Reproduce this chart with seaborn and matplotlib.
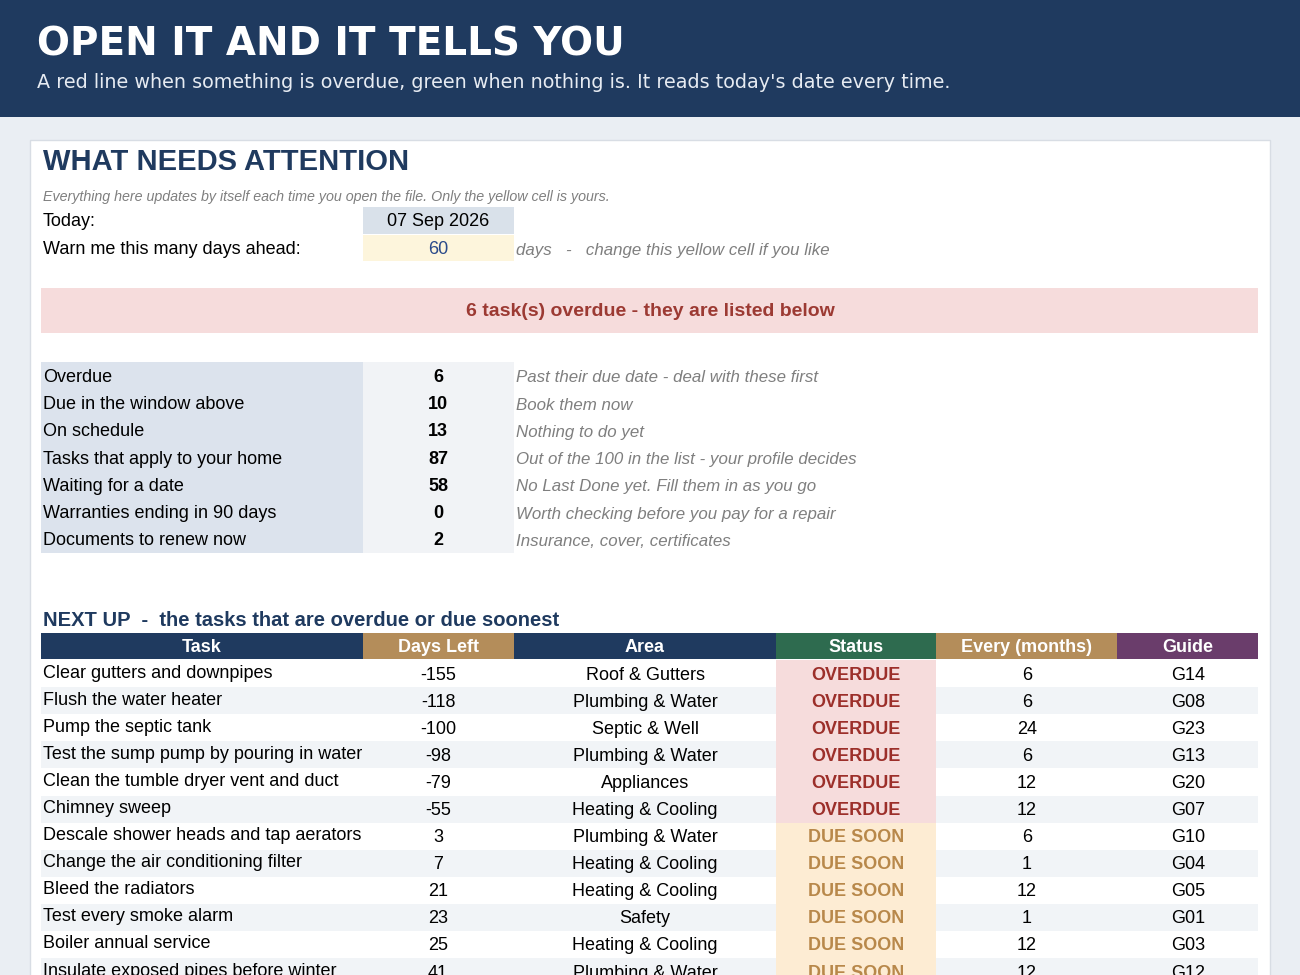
import matplotlib
matplotlib.use("Agg")
import matplotlib.pyplot as plt
import seaborn as sns
from matplotlib.patches import Rectangle
from matplotlib.transforms import Bbox, TransformedBbox

sns.set_theme(style="white")
plt.rcParams['font.family'] = ['Liberation Sans', 'DejaVu Sans']

title = "OPEN IT AND IT TELLS YOU"
subtitle = "A red line when something is overdue, green when nothing is. It reads today's date every time."
today = "07 Sep 2026"
warn_days = "60"
banner = "6 task(s) overdue - they are listed below"

sum_labels = ["Overdue", "Due in the window above", "On schedule", "Tasks that apply to your home",
              "Waiting for a date", "Warranties ending in 90 days", "Documents to renew now"]
sum_values = [6, 10, 13, 87, 58, 0, 2]
sum_notes = ["Past their due date - deal with these first", "Book them now", "Nothing to do yet",
             "Out of the 100 in the list - your profile decides", "No Last Done yet. Fill them in as you go",
             "Worth checking before you pay for a repair", "Insurance, cover, certificates"]

columns = ["Task", "Days Left", "Area", "Status", "Every (months)", "Guide"]
tasks = ["Clear gutters and downpipes", "Flush the water heater", "Pump the septic tank",
         "Test the sump pump by pouring in water", "Clean the tumble dryer vent and duct", "Chimney sweep",
         "Descale shower heads and tap aerators", "Change the air conditioning filter", "Bleed the radiators",
         "Test every smoke alarm", "Boiler annual service", "Insulate exposed pipes before winter"]
days_left = [-155, -118, -100, -98, -79, -55, 3, 7, 21, 23, 25, 41]
areas = ["Roof & Gutters", "Plumbing & Water", "Septic & Well", "Plumbing & Water", "Appliances",
         "Heating & Cooling", "Plumbing & Water", "Heating & Cooling", "Heating & Cooling", "Safety",
         "Heating & Cooling", "Plumbing & Water"]
statuses = ["OVERDUE"] * 6 + ["DUE SOON"] * 6
every = [6, 6, 24, 6, 12, 12, 6, 1, 12, 1, 12, 12]
guides = ["G14", "G08", "G23", "G13", "G20", "G07", "G10", "G04", "G05", "G01", "G03", "G12"]

NAVY = "#1f3a5f"
FS = 13
fig = plt.figure(figsize=(13, 9.75), dpi=100)
ax = fig.add_axes([0, 0, 1, 1])
ax.set_xlim(0, 1300); ax.set_ylim(975, 0); ax.axis("off")

def rect(x0, y0, x1, y1, c, **kw):
    r = Rectangle((x0, y0), x1 - x0, y1 - y0, facecolor=c, edgecolor=kw.pop("ec", "none"), **kw)
    ax.add_patch(r); return r

rect(0, 117, 1300, 975, "#eaeef3")
rect(0, 0, 1300, 117, NAVY)
ax.text(37, 44, title, family="DejaVu Sans", fontweight="bold", fontsize=28, color="white", va="center")
ax.text(37, 83, subtitle, family="DejaVu Sans", fontsize=13.8, color="#e6ebf2", va="center")
rect(30, 140, 1270, 990, "white", ec="#d8dde4", lw=1)

ax.text(43, 162, "WHAT NEEDS ATTENTION", fontweight="bold", fontsize=21, color=NAVY, va="center")
ax.text(43, 197, "Everything here updates by itself each time you open the file. Only the yellow cell is yours.",
        style="italic", fontsize=10.3, color="#7f7f7f", va="center")
rect(363, 207, 514, 234, "#d9e1ea")
ax.text(43, 222, "Today:", fontsize=FS, color="black", va="center")
ax.text(438, 222, today, fontsize=FS, color="black", va="center", ha="center")
rect(363, 235, 514, 261, "#fdf5dc")
ax.text(43, 249, "Warn me this many days ahead:", fontsize=FS, color="black", va="center")
ax.text(438, 249, warn_days, fontsize=FS, color="#2a4a8a", va="center", ha="center")
ax.text(516, 250, "days   -   change this yellow cell if you like", style="italic", fontsize=12.2,
        color="#7f7f7f", va="center")

rect(41, 288, 1258, 333, "#f6dcdc")
ax.text(650, 311, banner, fontweight="bold", fontsize=14, color="#9c3a33", va="center", ha="center")

for i, (lab, v, n) in enumerate(zip(sum_labels, sum_values, sum_notes)):
    yc = 376 + i * 27.2
    rect(41, yc - 14, 363, yc + 13.5, "#dce3ed")
    rect(363, yc - 14, 514, yc + 13.5, "#f1f3f6")
    ax.text(43, yc + 1.5, lab, fontsize=FS, color="black", va="center")
    ax.text(438, yc + 1.5, str(v), fontsize=FS, fontweight="bold", color="black", va="center", ha="center")
    ax.text(516, yc + 2, n, style="italic", fontsize=12.2, color="#7f7f7f", va="center")

ax.text(43, 621, "NEXT UP  -  the tasks that are overdue or due soonest", fontweight="bold", fontsize=14.5,
        color=NAVY, va="center")
edges = [41, 363, 514, 776, 936, 1117, 1258]
hcols = [NAVY, "#b48d5a", NAVY, "#2e6b4f", "#b48d5a", "#6a3d6b"]
for j, c in enumerate(columns):
    rect(edges[j], 633, edges[j + 1], 659, hcols[j])
    ax.text((edges[j] + edges[j + 1]) / 2, 647, c, fontweight="bold", fontsize=FS, color="white",
            va="center", ha="center")

for i in range(len(tasks)):
    y0 = 660 + i * 27.1
    yc = y0 + 15
    if i % 2 == 1:
        rect(41, y0, 1258, y0 + 27, "#f1f4f7")
    st = statuses[i]
    over = st == "OVERDUE"
    rect(776, y0, 936, y0 + 27.1, "#f6dcdc" if over else "#fdecd3")
    t = ax.text(43, yc - 2, tasks[i], fontsize=FS, color="black", va="center")
    t.set_clip_on(True)
    t.set_clip_box(TransformedBbox(Bbox([[41, y0 - 5], [363, y0 + 30]]), ax.transData))
    ax.text(438, yc, str(days_left[i]), fontsize=FS, color="black", va="center", ha="center")
    ax.text(645, yc, areas[i], fontsize=FS, color="black", va="center", ha="center")
    ax.text(856, yc, st, fontsize=FS, fontweight="bold", color="#9c2f2a" if over else "#b8884a",
            va="center", ha="center")
    ax.text(1027, yc, str(every[i]), fontsize=FS, color="black", va="center", ha="center")
    ax.text(1188, yc, guides[i], fontsize=FS, color="black", va="center", ha="center")

fig.savefig("out.png", dpi=100)
